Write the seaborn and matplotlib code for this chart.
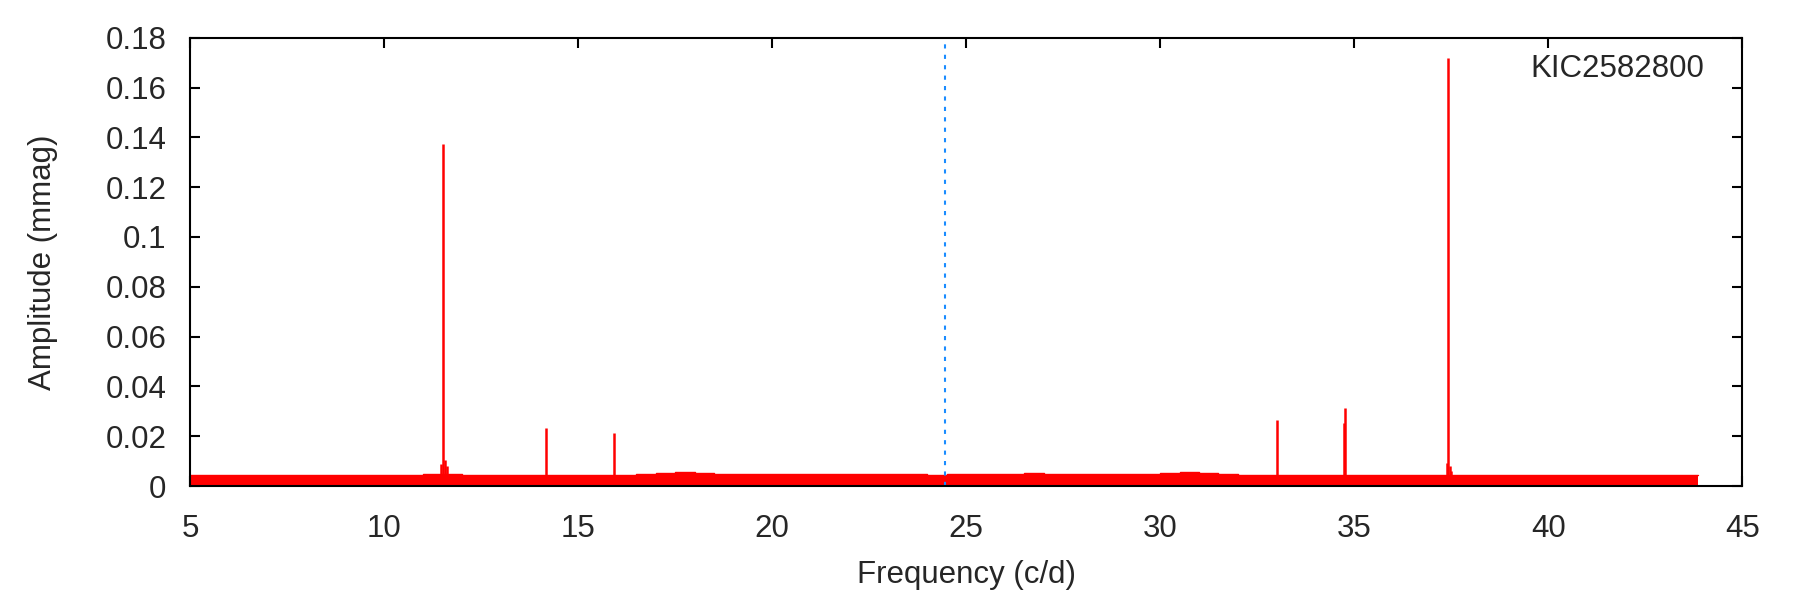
import numpy as np
import pandas as pd
import seaborn as sns
import matplotlib.pyplot as plt

# 피크 (주파수 c/d, 진폭 mmag)
peak_freq = [11.51, 14.17, 15.92, 33.01, 34.73, 34.77, 37.42]
peak_amp = [0.1374, 0.0233, 0.0213, 0.0265, 0.0254, 0.0313, 0.1717]

# 큰 피크 옆의 작은 날개
wing_freq = [11.47, 11.56, 11.62, 37.39, 37.46, 37.50]
wing_amp = [0.0088, 0.0104, 0.0080, 0.0094, 0.0080, 0.0061]

# 잡음 수준 (5.0 c/d 부터 0.5 간격)
noise_start = 5.0
noise_step = 0.5
noise_end = 43.85
noise_amp = [
    0.0044, 0.0045, 0.0043, 0.0044, 0.0045, 0.0044, 0.0043, 0.0044, 0.0045, 0.0044,
    0.0045, 0.0046, 0.0047, 0.0049,
    0.0044, 0.0044, 0.0045, 0.0044, 0.0045, 0.0044, 0.0044, 0.0045, 0.0044, 0.0047,
    0.0054, 0.0056, 0.0051, 0.0049, 0.0048, 0.0048,
    0.0048, 0.0049, 0.0048, 0.0050, 0.0049, 0.0048, 0.0047, 0.0047, 0.0046, 0.0047,
    0.0048, 0.0049, 0.0050, 0.0051, 0.0050, 0.0049, 0.0050, 0.0050, 0.0049, 0.0050,
    0.0052, 0.0056, 0.0054, 0.0048,
    0.0045, 0.0044, 0.0045, 0.0044, 0.0045, 0.0044, 0.0044, 0.0046, 0.0045, 0.0044,
    0.0045, 0.0044, 0.0045, 0.0044, 0.0045, 0.0045, 0.0044, 0.0045, 0.0044, 0.0045,
    0.0044, 0.0045, 0.0044, 0.0044,
]

nyquist = 24.45
star_name = 'KIC2582800'
x_ticks = [5, 10, 15, 20, 25, 30, 35, 40, 45]
y_ticks = [0, 0.02, 0.04, 0.06, 0.08, 0.1, 0.12, 0.14, 0.16, 0.18]
y_tick_labels = ['0', '0.02', '0.04', '0.06', '0.08', '0.1', '0.12', '0.14', '0.16', '0.18']

sns.set_theme(style='ticks')
plt.rcParams['font.family'] = ['Liberation Sans', 'DejaVu Sans']
fs = 22.5

fig, ax = plt.subplots(figsize=(18, 6), dpi=100)
fig.subplots_adjust(left=0.1056, right=0.968, bottom=0.19, top=0.937)

# 잡음 바닥
edges = noise_start + noise_step * np.arange(len(noise_amp) + 1)
edges[-1] = noise_end
levels = noise_amp + [noise_amp[-1]]
noise_df = pd.DataFrame({'freq': edges, 'amp': levels})
ax.fill_between(noise_df['freq'], 0, noise_df['amp'], step='post', color='red', lw=0)
sns.lineplot(data=noise_df, x='freq', y='amp', drawstyle='steps-post', color='red', lw=1.0, ax=ax)

# 피크
ax.vlines(peak_freq, 0, peak_amp, color='red', lw=1.8)
ax.vlines(wing_freq, 0, wing_amp, color='red', lw=1.8)

# 나이퀴스트 주파수
ax.axvline(nyquist, color='#1a8cff', lw=1.5, ls=(0, (2, 3)))

ax.text(0.9755, 0.931, star_name, transform=ax.transAxes, ha='right', va='center', fontsize=fs)

ax.set_xlim(5, 45)
ax.set_ylim(0, 0.18)
ax.set_xticks(x_ticks)
ax.set_yticks(y_ticks)
ax.set_yticklabels(y_tick_labels)
ax.tick_params(direction='in', length=7, width=1.5, labelsize=fs, top=True, right=True, color='black')
ax.tick_params(axis='y', pad=17)
ax.tick_params(axis='x', pad=20)
for s in ax.spines.values():
    s.set_linewidth(1.5)
    s.set_color('black')
ax.set_xlabel('Frequency (c/d)', fontsize=fs, labelpad=11.5)
ax.set_ylabel('Amplitude (mmag)', fontsize=fs, labelpad=34)

plt.savefig('out.png', dpi=100)
